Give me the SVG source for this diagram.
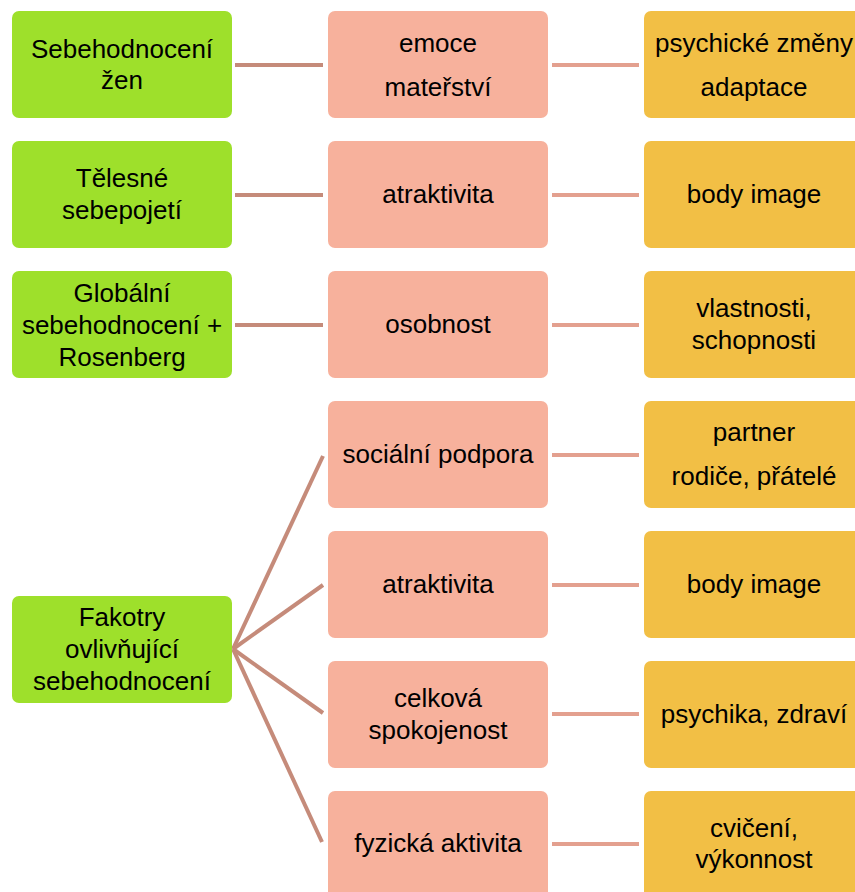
<svg xmlns="http://www.w3.org/2000/svg" width="855" height="892" viewBox="0 0 855 892">
<style>
.g{fill:#9ee02b}
.s{fill:#f7b19c}
.o{fill:#f2bf45}
text{font-family:"Liberation Sans","Open Sans",sans-serif;font-size:26px;fill:#000;text-anchor:middle}
.cl{stroke:#c58b7a;stroke-width:4;fill:none}
.cr{stroke:#e3a08f;stroke-width:4;fill:none}
</style>
<rect width="855" height="892" fill="#fff"/>
<g id="connectors">
<line class="cl" x1="235" y1="65" x2="323" y2="65"/>
<line class="cl" x1="235" y1="195" x2="323" y2="195"/>
<line class="cl" x1="235" y1="325" x2="323" y2="325"/>
<line class="cl" x1="233" y1="649" x2="323" y2="456"/>
<line class="cl" x1="233" y1="649" x2="323" y2="585"/>
<line class="cl" x1="233" y1="649" x2="323" y2="713"/>
<line class="cl" x1="233" y1="649" x2="322" y2="842"/>
<line class="cr" x1="552" y1="65" x2="639" y2="65"/>
<line class="cr" x1="552" y1="195" x2="639" y2="195"/>
<line class="cr" x1="552" y1="325" x2="639" y2="325"/>
<line class="cr" x1="552" y1="455" x2="639" y2="455"/>
<line class="cr" x1="552" y1="585" x2="639" y2="585"/>
<line class="cr" x1="552" y1="714" x2="639" y2="714"/>
<line class="cr" x1="552" y1="844" x2="639" y2="844"/>
</g>
<g id="g1"><rect class="g" x="12" y="11" width="220" height="107" rx="7"/><text x="122" y="58">Sebehodnocení</text><text x="122" y="89">žen</text></g>
<g id="g2"><rect class="g" x="12" y="141" width="220" height="107" rx="7"/><text x="122" y="187">Tělesné</text><text x="122" y="219">sebepojetí</text></g>
<g id="g3"><rect class="g" x="12" y="271" width="220" height="107" rx="7"/><text x="122" y="302">Globální</text><text x="122" y="334">sebehodnocení +</text><text x="122" y="366">Rosenberg</text></g>
<g id="g4"><rect class="g" x="12" y="596" width="220" height="107" rx="7"/><text x="122" y="626">Fakotry</text><text x="122" y="658">ovlivňující</text><text x="122" y="690">sebehodnocení</text></g>
<g id="s1"><rect class="s" x="328" y="11" width="220" height="107" rx="7"/><text x="438" y="52">emoce</text><text x="438" y="96">mateřství</text></g>
<g id="s2"><rect class="s" x="328" y="141" width="220" height="107" rx="7"/><text x="438" y="203">atraktivita</text></g>
<g id="s3"><rect class="s" x="328" y="271" width="220" height="107" rx="7"/><text x="438" y="333">osobnost</text></g>
<g id="s4"><rect class="s" x="328" y="401" width="220" height="107" rx="7"/><text x="438" y="463">sociální podpora</text></g>
<g id="s5"><rect class="s" x="328" y="531" width="220" height="107" rx="7"/><text x="438" y="593">atraktivita</text></g>
<g id="s6"><rect class="s" x="328" y="661" width="220" height="107" rx="7"/><text x="438" y="707">celková</text><text x="438" y="739">spokojenost</text></g>
<g id="s7"><rect class="s" x="328" y="791" width="220" height="107" rx="7"/><text x="438" y="852">fyzická aktivita</text></g>
<g id="o1"><rect class="o" x="644" y="11" width="220" height="107" rx="7"/><text x="754" y="52">psychické změny</text><text x="754" y="96">adaptace</text></g>
<g id="o2"><rect class="o" x="644" y="141" width="220" height="107" rx="7"/><text x="754" y="203">body image</text></g>
<g id="o3"><rect class="o" x="644" y="271" width="220" height="107" rx="7"/><text x="754" y="317">vlastnosti,</text><text x="754" y="349">schopnosti</text></g>
<g id="o4"><rect class="o" x="644" y="401" width="220" height="107" rx="7"/><text x="754" y="441">partner</text><text x="754" y="485">rodiče, přátelé</text></g>
<g id="o5"><rect class="o" x="644" y="531" width="220" height="107" rx="7"/><text x="754" y="593">body image</text></g>
<g id="o6"><rect class="o" x="644" y="661" width="220" height="107" rx="7"/><text x="754" y="723">psychika, zdraví</text></g>
<g id="o7"><rect class="o" x="644" y="791" width="220" height="107" rx="7"/><text x="754" y="837">cvičení,</text><text x="754" y="868">výkonnost</text></g>
</svg>
